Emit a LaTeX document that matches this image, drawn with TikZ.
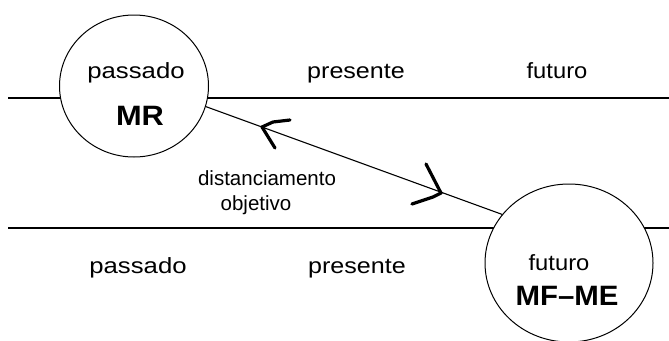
\documentclass[tikz,border=0pt]{standalone}
\usepackage{fontspec}
\usepackage{graphicx}
\setmainfont{Liberation Sans}
\usetikzlibrary{shapes.geometric}
\newcommand\sx[2]{\scalebox{#1}[1]{#2}}
\tikzset{
  lbl/.style={anchor=base, inner sep=0pt, font=\fontsize{22}{26}\selectfont},
  big/.style={anchor=base, inner sep=0pt, font=\fontsize{28}{32}\selectfont\bfseries},
  small/.style={anchor=base, inner sep=0pt, font=\fontsize{20.5}{24}\selectfont},
  timeline/.style={line width=1.3pt},
  bubble/.style={ellipse, draw, fill=white, line width=1pt, inner sep=0pt},
  hand/.style={line width=3.2pt, line cap=round, line join=round},
}
\begin{document}
\begin{tikzpicture}[x=1pt,y=-1pt]
\useasboundingbox (0,0) rectangle (669,340);
\clip (0,0) rectangle (669,340);
% time lines
\coordinate (l1a) at (8,98);
\coordinate (l1b) at (669,98);
\coordinate (l2a) at (8,228);
\coordinate (l2b) at (669,228);
\draw[timeline] (l1a) -- (l1b);
\draw[timeline] (l2a) -- (l2b);
% circles
\node[bubble, minimum width=149pt, minimum height=142pt] (c1) at (134,86) {};
\node[bubble, minimum width=168pt, minimum height=158pt] (c2) at (569,263) {};
% connector
\draw[line width=1.1pt] (c1.-16) -- (c2.144);
% hand drawn arrowheads
\draw[hand] (290,120) -- (273,122) -- (262,127) -- (275,148);
\draw[hand] (426,164) -- (441,193) -- (433,197) -- (412,204);
% labels
\node[lbl] (tpas) at (136,78) {\sx{1.17}{passado}};
\node[big] (mr) at (140,125) {\sx{1.1}{MR}};
\node[lbl] (tpre) at (356,78) {\sx{1.14}{presente}};
\node[lbl] (tfut) at (557,78) {\sx{1.08}{futuro}};
\node[lbl] (bpas) at (138,273) {\sx{1.17}{passado}};
\node[lbl] (bpre) at (357,273) {\sx{1.14}{presente}};
\node[lbl] (bfut) at (559,270) {\sx{1.08}{futuro}};
\node[big] (mfme) at (567,305) {\sx{1.05}{MF–ME}};
\node[small] (dist) at (267,185) {distanciamento};
\node[small] (obj) at (256,210) {objetivo};
\end{tikzpicture}
\end{document}
